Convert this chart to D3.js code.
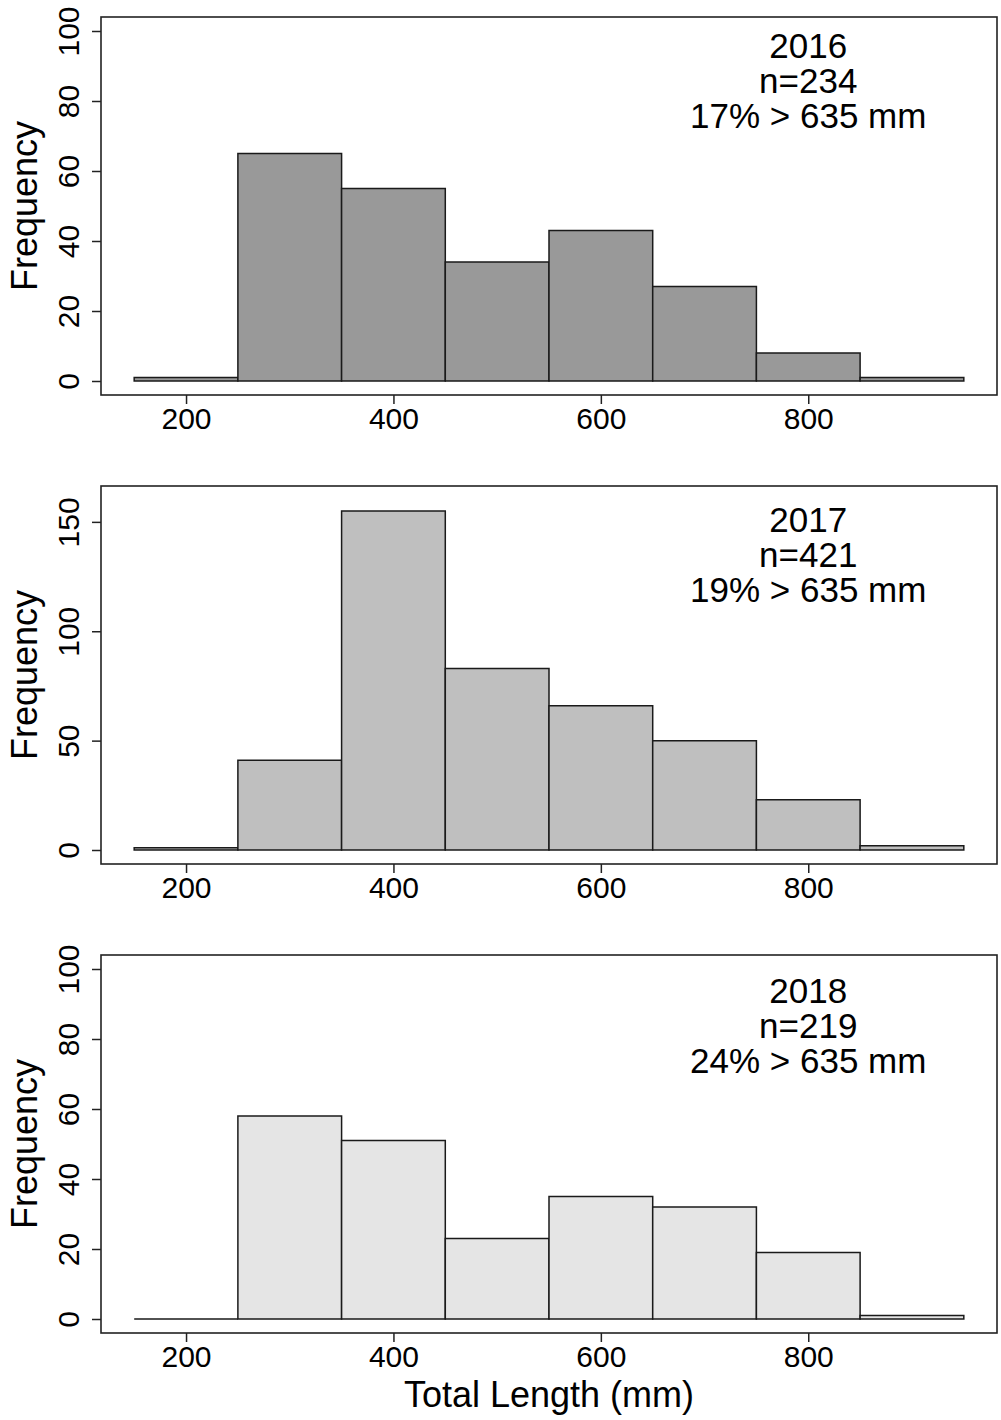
<!DOCTYPE html>
<html>
<head>
<meta charset="utf-8">
<script src="https://cdn.jsdelivr.net/npm/d3@7"></script>
<style>
  body { margin: 0; background: #fff; }
  svg text { font-family: "Liberation Sans", Arial, sans-serif; fill: #000; }
</style>
</head>
<body>
<div class="chart"></div>
<script>
// bin edges (mm) shared by all three histograms
let breaks = [150, 250, 350, 450, 550, 650, 750, 850, 950];

let years = ["2016", "2017", "2018"];
let counts2016 = [1, 65, 55, 34, 43, 27, 8, 1];
let counts2017 = [1, 41, 155, 83, 66, 50, 23, 2];
let counts2018 = [0, 58, 51, 23, 35, 32, 19, 1];
let sampleSizes = [234, 421, 219];
let pctOver = ["17%", "19%", "24%"];

let yMax = [100, 160, 100];
let yTicks = [[0, 20, 40, 60, 80, 100], [0, 50, 100, 150], [0, 20, 40, 60, 80, 100]];
let xTicks = [200, 400, 600, 800];

let fills = ["#999999", "#bfbfbf", "#e5e5e5"];
let allCounts = [counts2016, counts2017, counts2018];

let W = 1001, H = 1420;
let left = 101, right = 997, panelH = 378;
let panelTops = [17, 486, 955];
let labelAt = [86, 135, 84]; // data-y of middle annotation line

let svg = d3.select(".chart").append("svg")
  .attr("width", W).attr("height", H);

// R pads the axis range by 4% each side
let xPad = (breaks[breaks.length - 1] - breaks[0]) * 0.04;
let x = d3.scaleLinear()
  .domain([breaks[0] - xPad, breaks[breaks.length - 1] + xPad])
  .range([left, right]);

years.forEach(function(yr, i) {
  let top = panelTops[i], bottom = top + panelH;
  let yp = yMax[i] * 0.04;
  let y = d3.scaleLinear().domain([-yp, yMax[i] + yp]).range([bottom, top]);

  let g = svg.append("g");

  let bins = allCounts[i].map(function(c, j) {
    return { x0: breaks[j], x1: breaks[j + 1], n: c };
  });

  // paths so that empty bins still show as a line on the baseline
  g.selectAll(".bar")
    .data(bins)
    .enter()
    .append("path")
    .attr("class", "bar")
    .attr("d", function(d) {
      return "M" + x(d.x0) + "," + y(0) + "V" + y(d.n) + "H" + x(d.x1) + "V" + y(0) + "Z";
    })
    .attr("fill", fills[i])
    .attr("stroke", "#1a1a1a")
    .attr("stroke-width", 1.5);

  // frame
  g.append("rect")
    .attr("x", left).attr("y", top)
    .attr("width", right - left).attr("height", panelH)
    .attr("fill", "none")
    .attr("stroke", "#222")
    .attr("stroke-width", 1.6);

  // y axis
  let yAxis = d3.axisLeft(y).tickValues(yTicks[i]).tickSize(9).tickPadding(12);
  let ya = g.append("g")
    .attr("transform", "translate(" + left + ",0)")
    .call(yAxis);
  ya.select(".domain").remove();
  ya.selectAll(".tick line").attr("stroke", "#222").attr("stroke-width", 1.5);
  ya.selectAll(".tick text")
    .attr("font-size", 30)
    .attr("text-anchor", "middle")
    .attr("transform", "rotate(-90)")
    .attr("x", 0)
    .attr("y", -22)
    .attr("dy", 0);

  // x axis
  let xAxis = d3.axisBottom(x).tickValues(xTicks).tickSize(9).tickPadding(4);
  let xa = g.append("g")
    .attr("transform", "translate(0," + bottom + ")")
    .call(xAxis);
  xa.select(".domain").remove();
  xa.selectAll(".tick line").attr("stroke", "#222").attr("stroke-width", 1.5);
  xa.selectAll(".tick text").attr("font-size", 30).attr("dy", "0.71em");

  g.append("text")
    .attr("transform", "translate(37," + (top + panelH / 2) + ") rotate(-90)")
    .attr("text-anchor", "middle")
    .attr("font-size", 36)
    .text("Frequency");

  let lines = [yr, "n=" + sampleSizes[i], pctOver[i] + " > 635 mm"];
  let mid = y(labelAt[i]) + 12.5;
  g.selectAll(".note")
    .data(lines)
    .enter()
    .append("text")
    .attr("class", "note")
    .attr("x", x(800))
    .attr("y", function(d, k) { return mid + (k - 1) * 35; })
    .attr("text-anchor", "middle")
    .attr("font-size", 35)
    .text(function(d) { return d; });
});

svg.append("text")
  .attr("x", (left + right) / 2)
  .attr("y", 1407)
  .attr("text-anchor", "middle")
  .attr("font-size", 36)
  .text("Total Length (mm)");
</script>
</body>
</html>
